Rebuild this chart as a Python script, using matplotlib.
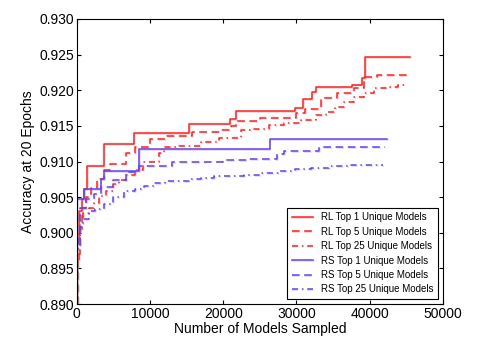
import matplotlib
matplotlib.use('Agg')
import matplotlib.pyplot as plt
import matplotlib.patheffects as pe

# step data (x = models sampled, y = accuracy)
rl1_x = [0, 80, 300, 700, 1000, 1400, 3700, 7750, 15300, 20950, 21800, 29850, 30850, 32150, 32700, 37650, 38900, 39350, 45450]
rl1_y = [0.8905, 0.8990, 0.9030, 0.9048, 0.9062, 0.9094, 0.9125, 0.9140, 0.9153, 0.9159, 0.9171, 0.9175, 0.9188, 0.9198, 0.9204, 0.9208, 0.9217, 0.9246, 0.9246]

rl5_x = [0, 150, 400, 700, 1200, 2000, 2700, 3700, 4500, 6700, 8000, 10000, 12300, 15700, 19600, 21000, 21700, 25000, 29900, 31200, 33300, 35600, 37800, 39200, 41000, 45150]
rl5_y = [0.8902, 0.8970, 0.9005, 0.9035, 0.9050, 0.9063, 0.9075, 0.9088, 0.9097, 0.9112, 0.9120, 0.9131, 0.9136, 0.9141, 0.9144, 0.9150, 0.9157, 0.9161, 0.9168, 0.9173, 0.9189, 0.9196, 0.9203, 0.9219, 0.9222, 0.9222]

rl25_x = [0, 60, 250, 500, 900, 1600, 2300, 3100, 4000, 4900, 5800, 6700, 7900, 9100, 11200, 11900, 13900, 16900, 19400, 22400, 23700, 26200, 28300, 30600, 32600, 34000, 35300, 36500, 37800, 39200, 40600, 42200, 43800, 45150]
rl25_y = [0.8900, 0.8960, 0.8999, 0.9018, 0.9028, 0.9035, 0.9042, 0.9051, 0.9058, 0.9069, 0.9074, 0.9081, 0.9088, 0.9100, 0.9112, 0.9120, 0.9122, 0.9127, 0.9133, 0.9144, 0.9146, 0.9151, 0.9154, 0.9158, 0.9165, 0.9170, 0.9177, 0.9184, 0.9190, 0.9196, 0.9203, 0.9205, 0.9208, 0.9208]

rs1_x = [0, 60, 950, 3240, 3700, 8470, 26320, 42400]
rs1_y = [0.8900, 0.9047, 0.9062, 0.9076, 0.9087, 0.9117, 0.9131, 0.9131]

rs5_x = [0, 60, 400, 1200, 2300, 3300, 5000, 6700, 8500, 13000, 17500, 20000, 23500, 26200, 27300, 28300, 33050, 42100]
rs5_y = [0.8900, 0.8980, 0.9035, 0.9047, 0.9054, 0.9064, 0.9074, 0.9085, 0.9094, 0.9099, 0.9100, 0.9102, 0.9103, 0.9104, 0.9110, 0.9115, 0.9120, 0.9120]

rs25_x = [0, 80, 200, 500, 900, 1600, 2500, 3700, 5000, 6400, 8000, 9200, 10500, 12000, 13500, 15300, 17000, 18700, 20300, 22800, 25200, 27500, 29800, 32000, 34500, 37000, 41800]
rs25_y = [0.8900, 0.8976, 0.8994, 0.9008, 0.9020, 0.9030, 0.9034, 0.9041, 0.9050, 0.9058, 0.9062, 0.9066, 0.9070, 0.9072, 0.9073, 0.9075, 0.9077, 0.9079, 0.9080, 0.9081, 0.9084, 0.9087, 0.9089, 0.9091, 0.9093, 0.9095, 0.9095]

labels = ['RL Top 1 Unique Models', 'RL Top 5 Unique Models', 'RL Top 25 Unique Models',
          'RS Top 1 Unique Models', 'RS Top 5 Unique Models', 'RS Top 25 Unique Models']

red = '#ff2020'
blue = '#6a3cf0'

plt.rcParams['font.family'] = ['Liberation Sans', 'DejaVu Sans']

fig = plt.figure(figsize=(4.83, 3.44), dpi=100)
ax = fig.add_axes([0.159, 0.116, 0.758, 0.829])

# faint grey drop shadow like the scanned original
shadow = [pe.SimpleLineShadow(offset=(0.7, -0.7), shadow_color='#999999', alpha=0.35), pe.Normal()]

series = [
    (rl1_x, rl1_y, red, '-'),
    (rl5_x, rl5_y, red, (0, (5, 3))),
    (rl25_x, rl25_y, red, (0, (4, 2.5, 1, 2.5))),
    (rs1_x, rs1_y, blue, '-'),
    (rs5_x, rs5_y, blue, (0, (5, 3))),
    (rs25_x, rs25_y, blue, (0, (4, 2.5, 1, 2.5))),
]
for (x, y, c, ls), lab in zip(series, labels):
    ax.plot(x, y, drawstyle='steps-post', color=c, linestyle=ls, linewidth=1.1,
            label=lab, path_effects=shadow)

ax.set_xlim(0, 50000)
ax.set_ylim(0.890, 0.930)
ax.set_xticks([0, 10000, 20000, 30000, 40000, 50000])
ax.set_yticks([0.890, 0.895, 0.900, 0.905, 0.910, 0.915, 0.920, 0.925, 0.930])
ax.set_yticklabels(['%.3f' % v for v in ax.get_yticks()])
ax.tick_params(direction='in', top=True, right=True, labelsize=10, length=3, pad=2)
ax.set_xlabel('Number of Models Sampled', fontsize=10, labelpad=1)
ax.set_ylabel('Accuracy at 20 Epochs', fontsize=10, labelpad=3)

leg = ax.legend(loc='lower right', fontsize=7, fancybox=False, edgecolor='black',
                handlelength=2.2, borderpad=0.5, labelspacing=0.45, framealpha=1)
leg.get_frame().set_linewidth(0.8)

fig.savefig('out.png', dpi=100)
